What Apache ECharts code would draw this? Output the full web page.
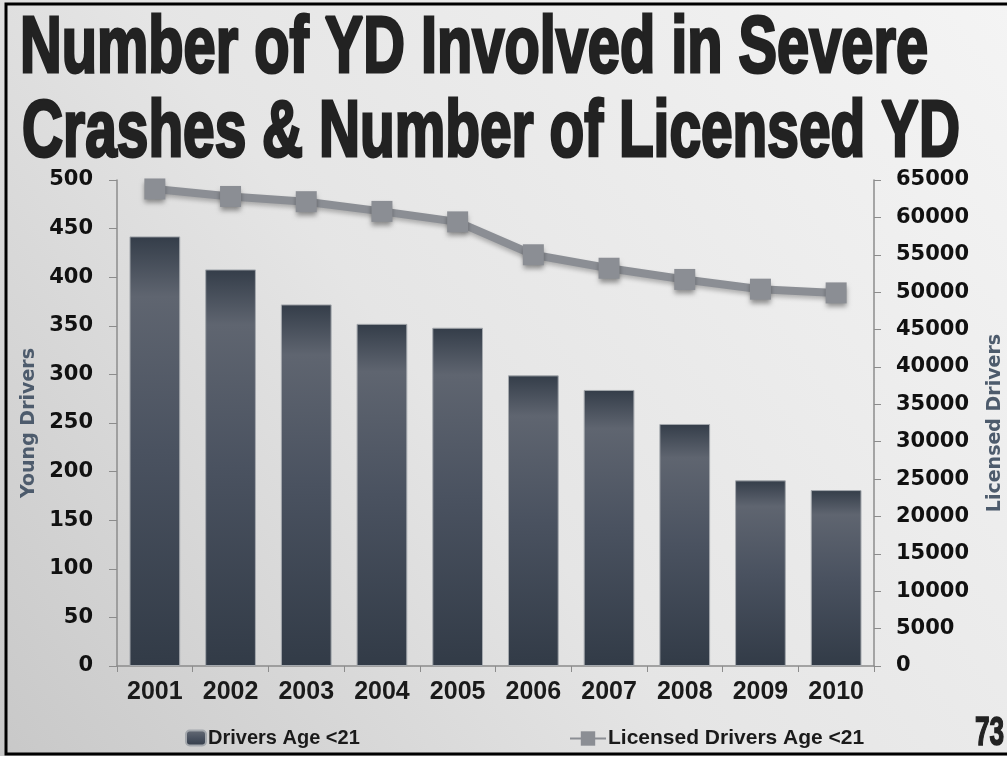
<!DOCTYPE html>
<html>
<head>
<meta charset="utf-8">
<script src="https://cdn.jsdelivr.net/npm/echarts@6/dist/echarts.min.js"></script>
<style>
  html, body { margin: 0; padding: 0; background: #ffffff; }
  #chart { width: 1007px; height: 759px; }
</style>
</head>
<body>
<div id="chart"></div>
<script>
// Years on the category axis
const years = ['2001', '2002', '2003', '2004', '2005', '2006', '2007', '2008', '2009', '2010'];
// Young drivers (age < 21) involved in severe crashes
const severeCrashDrivers = [442, 408, 372, 352, 348, 299, 284, 249, 191, 181];
// Licensed drivers age < 21
const licensedDrivers = [63800, 62800, 62100, 60800, 59400, 55000, 53200, 51700, 50400, 49900];
// Axis ranges / steps
const leftMax = 500, leftStep = 50;
const rightMax = 65000, rightStep = 5000;
// Title lines
const titleLines = ['Number of YD Involved in Severe', 'Crashes & Number of Licensed YD'];

const chart = echarts.init(document.getElementById('chart'), null, { renderer: 'canvas' });

const sans = '"Liberation Sans", Arial, sans-serif';
const wide = '"DejaVu Sans", Verdana, sans-serif';
const titleFont = 'bold 80px ' + sans;

// Squeeze the heavy title lines horizontally to a condensed look
const ctx = document.createElement('canvas').getContext('2d');
function squeeze(text, font, targetWidth) {
  ctx.font = font;
  return targetWidth / ctx.measureText(text).width;
}

const barGradient = new echarts.graphic.LinearGradient(0, 0, 0, 1, [
  { offset: 0, color: '#343d49' },
  { offset: 0.14, color: '#5f6570' },
  { offset: 0.5, color: '#4a5260' },
  { offset: 1, color: '#323b47' }
]);

chart.setOption({
  backgroundColor: new echarts.graphic.LinearGradient(1, 0, 0, 1, [
    { offset: 0, color: '#f4f4f4' },
    { offset: 0.55, color: '#e5e5e5' },
    { offset: 1, color: '#c8c8c8' }
  ]),
  animation: false,
  graphic: [
    // slide frame
    { type: 'rect', shape: { x: 6, y: 4, width: 1010, height: 750 },
      style: { fill: 'none', stroke: '#000', lineWidth: 3 }, z: 10 },
    { type: 'rect', shape: { x: 0, y: 756, width: 1007, height: 3 },
      style: { fill: '#fff' }, z: 11 },
    // title
    { type: 'text', x: 20, y: 10, scaleX: squeeze(titleLines[0], titleFont, 908),
      style: { text: titleLines[0], font: titleFont,
               fill: '#222', stroke: '#222', lineWidth: 3 } },
    { type: 'text', x: 22, y: 94, scaleX: squeeze(titleLines[1], titleFont, 938),
      style: { text: titleLines[1], font: titleFont,
               fill: '#222', stroke: '#222', lineWidth: 3 } },
    // slide number
    { type: 'text', x: 975, y: 713, scaleX: 0.64,
      style: { text: '73', font: 'bold 41px ' + sans, fill: '#222', stroke: '#222', lineWidth: 1.5 } }
  ],
  grid: { left: 117, right: 133, top: 180, bottom: 93, containLabel: false, outerBoundsMode: 'none' },
  legend: [
    { data: ['Drivers Age <21'], left: 180, top: 723, itemWidth: 20, itemHeight: 15,
      textStyle: { fontFamily: sans, fontWeight: 'bold', fontSize: 20, color: '#1a1a1a', padding: [0, 0, 0, -3] } },
    { data: ['Licensed Drivers Age <21'], left: 564, top: 723, itemWidth: 36, itemHeight: 18,
      textStyle: { fontFamily: sans, fontWeight: 'bold', fontSize: 21, color: '#1a1a1a', padding: [0, 0, 0, -3] } }
  ],
  xAxis: {
    type: 'category',
    data: years,
    axisLine: { lineStyle: { color: '#8c8c8c', width: 1.5 } },
    axisTick: { show: true, length: 6, lineStyle: { color: '#8c8c8c' } },
    axisLabel: { fontFamily: sans, fontWeight: 'bold', fontSize: 25, color: '#1a1a1a', margin: 14 }
  },
  yAxis: [
    {
      type: 'value', min: 0, max: leftMax, interval: leftStep,
      name: 'Young Drivers', nameLocation: 'middle', nameGap: 78, nameRotate: 90,
      nameTextStyle: { fontFamily: wide, fontWeight: 'bold', fontSize: 19, color: '#4d5b6c' },
      axisLine: { show: true, lineStyle: { color: '#8c8c8c', width: 1.5 } },
      axisTick: { show: true, length: 8, lineStyle: { color: '#8c8c8c' } },
      splitLine: { show: false },
      axisLabel: { fontFamily: wide, fontWeight: 'bold', fontSize: 21, color: '#111', margin: 24 }
    },
    {
      type: 'value', min: 0, max: rightMax, interval: rightStep, position: 'right',
      name: 'Licensed Drivers', nameLocation: 'middle', nameGap: 112, nameRotate: 90,
      nameTextStyle: { fontFamily: wide, fontWeight: 'bold', fontSize: 19, color: '#4d5b6c' },
      axisLine: { show: true, lineStyle: { color: '#8c8c8c', width: 1.5 } },
      axisTick: { show: true, length: 7, lineStyle: { color: '#8c8c8c' } },
      splitLine: { show: false },
      axisLabel: { fontFamily: wide, fontWeight: 'bold', fontSize: 21, color: '#111', margin: 22,
                   formatter: (v) => String(v) }
    }
  ],
  series: [
    {
      name: 'Drivers Age <21',
      type: 'bar',
      yAxisIndex: 0,
      data: severeCrashDrivers,
      barCategoryGap: '33%',
      itemStyle: { color: barGradient, borderColor: '#a4a8ad', borderWidth: 1 }
    },
    {
      name: 'Licensed Drivers Age <21',
      type: 'line',
      yAxisIndex: 1,
      data: licensedDrivers,
      symbol: 'rect',
      symbolSize: 21,
      lineStyle: { color: '#8b8e94', width: 8,
                   shadowColor: 'rgba(0,0,0,0.25)', shadowBlur: 4, shadowOffsetY: 3 },
      itemStyle: { color: '#8b8e94', borderWidth: 0,
                   shadowColor: 'rgba(0,0,0,0.4)', shadowBlur: 5, shadowOffsetY: 4 },
      z: 5
    }
  ]
});
</script>
</body>
</html>
